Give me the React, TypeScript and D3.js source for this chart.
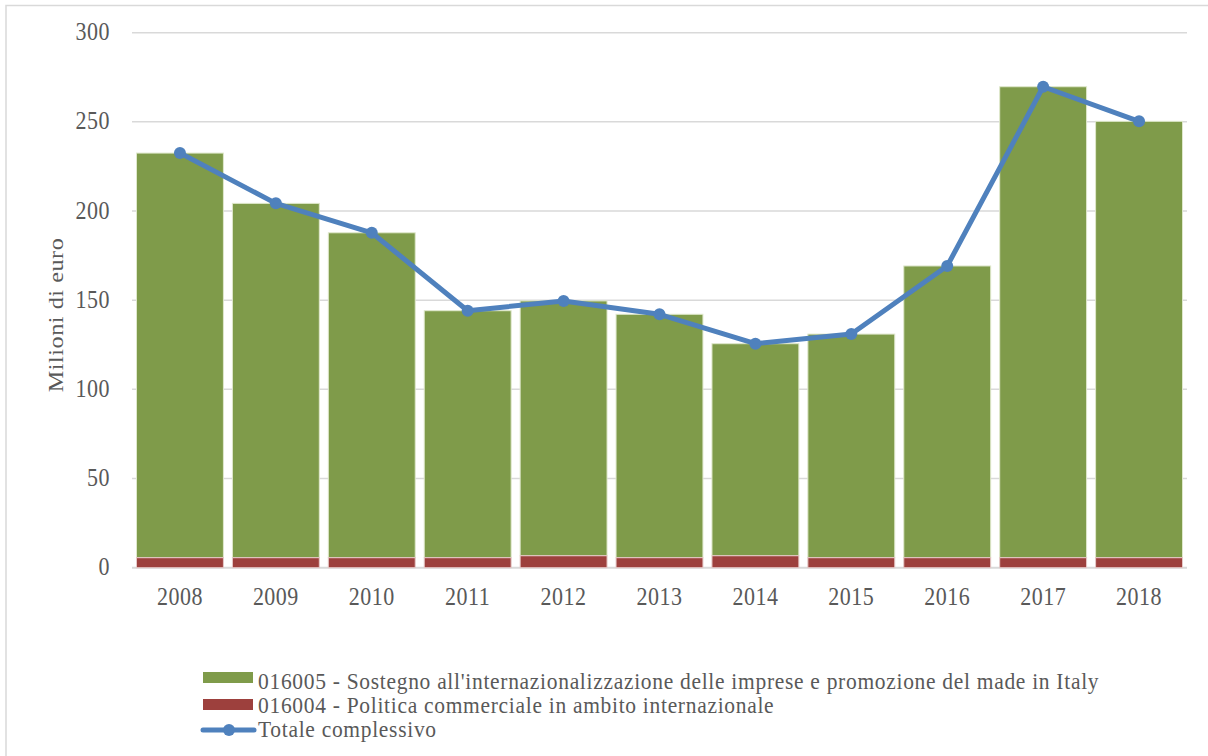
import React, { useEffect, useRef } from "react";
import * as d3 from "d3";

// anni sull'asse x
const years = ["2008", "2009", "2010", "2011", "2012", "2013", "2014", "2015", "2016", "2017", "2018"];
// 016004 - Politica commerciale in ambito internazionale (milioni di euro)
const politica = [5.6, 5.6, 5.6, 5.6, 6.7, 5.6, 6.7, 5.6, 5.6, 5.6, 5.6];
// 016005 - Sostegno all'internazionalizzazione ... (milioni di euro)
const sostegno = [226.9, 198.7, 182.2, 138.5, 142.9, 136.5, 118.9, 125.4, 163.6, 264.1, 244.7];
// Totale complessivo
const totale = [232.5, 204.3, 187.8, 144.1, 149.6, 142.1, 125.6, 131.0, 169.2, 269.7, 250.3];
const yTicks = [0, 50, 100, 150, 200, 250, 300];

const legendLabels = [
  "016005 - Sostegno all'internazionalizzazione delle imprese e promozione del made in Italy",
  "016004 - Politica commerciale in ambito internazionale",
  "Totale complessivo",
];

const GREEN = "#7f9b4a";
const RED = "#9d403d";
const BLUE = "#4f81bd";
const TEXT = "#595959";
const GRID = "#d9d9d9";
const FONT = "'Liberation Serif', 'Times New Roman', serif";

export default function App() {
  const ref = useRef<SVGSVGElement>(null);

  useEffect(() => {
    const width = 1208;
    const height = 756;
    const left = 132, right = 1187, top = 32.7, bottom = 567.7;
    const stretch = 1.15; // testo leggermente allungato in verticale

    const svg = d3.select(ref.current);
    svg.selectAll("*").remove();
    svg.attr("width", width).attr("height", height);

    // cornice del grafico
    svg.append("rect")
      .attr("x", 6).attr("y", 5.5)
      .attr("width", 1400).attr("height", 1000)
      .attr("fill", "#fff")
      .attr("stroke", GRID).attr("stroke-width", 1.5);

    const x = d3.scaleBand<string>()
      .domain(years)
      .range([left, right])
      .paddingInner(0.094)
      .paddingOuter(0.047);

    const y = d3.scaleLinear().domain([0, 300]).range([bottom, top]);

    // griglia orizzontale
    svg.append("g")
      .selectAll("line")
      .data(yTicks)
      .enter()
      .append("line")
      .attr("x1", left).attr("x2", right)
      .attr("y1", (d) => y(d)).attr("y2", (d) => y(d))
      .attr("stroke", GRID)
      .attr("stroke-width", (d) => (d === 0 ? 2 : 1.5));

    // etichette asse y
    svg.append("g")
      .selectAll("text")
      .data(yTicks)
      .enter()
      .append("text")
      .attr("transform", (d) => `translate(110, ${y(d) + 7.5}) scale(1, ${stretch})`)
      .attr("text-anchor", "end")
      .attr("font-family", FONT)
      .attr("font-size", 22)
      .attr("letter-spacing", 0.5)
      .attr("fill", TEXT)
      .text((d) => d);

    // barre impilate
    const bars = svg.append("g");
    bars.selectAll("rect.sost")
      .data(sostegno)
      .enter()
      .append("rect")
      .attr("class", "sost")
      .attr("x", (d, i) => x(years[i])!)
      .attr("y", (d, i) => y(politica[i] + d))
      .attr("width", x.bandwidth())
      .attr("height", (d, i) => y(politica[i]) - y(politica[i] + d))
      .attr("fill", GREEN)
      .attr("stroke", "#dfe8cc")
      .attr("stroke-width", 1);

    bars.selectAll("rect.pol")
      .data(politica)
      .enter()
      .append("rect")
      .attr("class", "pol")
      .attr("x", (d, i) => x(years[i])!)
      .attr("y", (d) => y(d))
      .attr("width", x.bandwidth())
      .attr("height", (d) => y(0) - y(d))
      .attr("fill", RED)
      .attr("stroke", "#e6c9c8")
      .attr("stroke-width", 1);

    // linea del totale
    const cx = (i: number) => x(years[i])! + x.bandwidth() / 2;
    const line = d3.line<number>()
      .x((d, i) => cx(i))
      .y((d) => y(d));

    svg.append("path")
      .datum(totale)
      .attr("d", line)
      .attr("fill", "none")
      .attr("stroke", BLUE)
      .attr("stroke-width", 5)
      .attr("stroke-linejoin", "round");

    svg.append("g")
      .selectAll("circle")
      .data(totale)
      .enter()
      .append("circle")
      .attr("cx", (d, i) => cx(i))
      .attr("cy", (d) => y(d))
      .attr("r", 6)
      .attr("fill", BLUE);

    // etichette asse x
    svg.append("g")
      .selectAll("text")
      .data(years)
      .enter()
      .append("text")
      .attr("transform", (d) => `translate(${x(d)! + x.bandwidth() / 2}, 605) scale(1, ${stretch})`)
      .attr("text-anchor", "middle")
      .attr("font-family", FONT)
      .attr("font-size", 22)
      .attr("letter-spacing", 0.5)
      .attr("fill", TEXT)
      .text((d) => d);

    // titolo asse y
    svg.append("text")
      .attr("transform", `translate(63, 315) scale(1, 1.1) rotate(-90)`)
      .attr("text-anchor", "middle")
      .attr("font-family", FONT)
      .attr("font-size", 22)
      .attr("letter-spacing", 0.5)
      .attr("fill", TEXT)
      .text("Milioni di euro");

    // legenda
    const lg = svg.append("g");
    const rowY = [689, 713, 737];
    lg.append("rect").attr("x", 203).attr("y", 672).attr("width", 50).attr("height", 11).attr("fill", GREEN);
    lg.append("rect").attr("x", 203).attr("y", 699).attr("width", 50).attr("height", 11).attr("fill", RED);
    lg.append("line")
      .attr("x1", 203).attr("x2", 254)
      .attr("y1", 730).attr("y2", 730)
      .attr("stroke", BLUE).attr("stroke-width", 5)
      .attr("stroke-linecap", "round");
    lg.append("circle").attr("cx", 229).attr("cy", 730).attr("r", 6).attr("fill", BLUE);

    lg.selectAll("text")
      .data(legendLabels)
      .enter()
      .append("text")
      .attr("transform", (d, i) => `translate(258, ${rowY[i]}) scale(1, 1.05)`)
      .attr("font-family", FONT)
      .attr("font-size", 21.5)
      .attr("letter-spacing", 0.7)
      .attr("fill", TEXT)
      .text((d) => d);
  }, []);

  return (
    <svg
      ref={ref}
      style={{ position: "absolute", left: 0, top: 0, display: "block", background: "#fff" }}
    />
  );
}
